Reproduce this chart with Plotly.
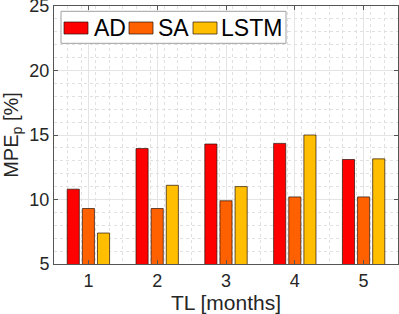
import plotly.graph_objects as go

categories = [1, 2, 3, 4, 5]
ad = [10.8, 13.95, 14.3, 14.35, 13.1]
sa = [9.3, 9.3, 9.9, 10.2, 10.2]
lstm = [7.4, 11.1, 11.0, 15.0, 13.15]

series = [("AD", ad, "#ff0000"), ("SA", sa, "#ff6000"), ("LSTM", lstm, "#ffbf00")]
edge = "rgba(40,20,10,0.7)"

fig = go.Figure()
for name, vals, col in series:
    fig.add_trace(go.Bar(x=categories, y=vals, name=name, showlegend=False,
                         marker=dict(color=col, line=dict(color=edge, width=1))))

# plot-area geometry in pixels
W, H = 399, 314
L, R, T, B = 54, 1, 6, 50
pw, ph = W - L - R, H - T - B

def px(x):
    return (x - L) / pw

def py(y):
    return (H - B - y) / ph

font = "Liberation Sans, Arial, Helvetica, sans-serif"

# custom legend (MATLAB style: wide swatches)
fig.add_shape(type="rect", xref="paper", yref="paper", x0=px(61), x1=px(286), y0=py(43.3), y1=py(11.3),
              line=dict(color="#a0a0a0", width=1), fillcolor="white", layer="above")
legend_items = [("AD", "#ff0000", 64, 92), ("SA", "#ff6000", 129, 156), ("LSTM", "#ffbf00", 193, 219)]
for name, col, sx, tx in legend_items:
    fig.add_shape(type="rect", xref="paper", yref="paper", x0=px(sx), x1=px(sx + 24), y0=py(34), y1=py(22),
                  line=dict(color=edge, width=1), fillcolor=col, layer="above")
    fig.add_annotation(xref="paper", yref="paper", x=px(tx), y=py(28), text=name, showarrow=False,
                       xanchor="left", yanchor="middle", font=dict(size=23, color="black", family=font))

fig.update_layout(
    width=W, height=H,
    margin=dict(l=L, r=R, t=T, b=B),
    paper_bgcolor="white", plot_bgcolor="white",
    barmode="group", bargap=0.34, bargroupgap=0.2,
    font=dict(family=font, size=18, color="#262626"),
    showlegend=False,
    xaxis=dict(range=[0.5, 5.5], tickvals=categories, ticktext=[str(c) for c in categories],
               title=dict(text="TL [months]", font=dict(size=21), standoff=4),
               automargin=False, ticklabeloverflow="allow",
               showline=True, linecolor="#555555", linewidth=1, mirror="ticks",
               ticks="inside", ticklen=4, tickcolor="#555555",
               showgrid=True, gridcolor="#e4e4e4", gridwidth=1, zeroline=False,
               minor=dict(dtick=0.2, tick0=0.5, showgrid=True, gridcolor="#e0e0e0", griddash="dot", ticks="")),
    yaxis=dict(range=[5, 25], tickvals=[5, 10, 15, 20, 25],
               title=dict(text="MPE<sub>p</sub> [%]", font=dict(size=20), standoff=6),
               automargin=False, ticklabeloverflow="allow",
               showline=True, linecolor="#555555", linewidth=1, mirror="ticks",
               ticks="inside", ticklen=4, tickcolor="#555555",
               showgrid=True, gridcolor="#e4e4e4", gridwidth=1, zeroline=False,
               minor=dict(dtick=1, showgrid=True, gridcolor="#e0e0e0", griddash="dot", ticks="")),
)

fig.write_html("out.html", config={"displayModeBar": False},
               post_script="document.body.style.margin='0';document.body.style.padding='0';")
